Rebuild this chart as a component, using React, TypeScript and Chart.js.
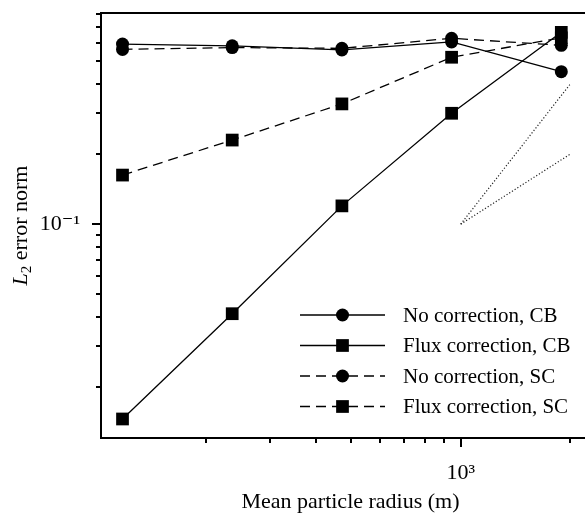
import React, { useEffect, useRef } from 'react';
import { Chart, registerables } from 'chart.js';

Chart.register(...registerables);

// ---- data ----
const radius = [118, 236, 472, 944, 1888];
const noCorrectionCB = [0.592, 0.582, 0.559, 0.605, 0.451];
const fluxCorrectionCB = [0.0146, 0.0413, 0.1198, 0.299, 0.665];
const noCorrectionSC = [0.562, 0.572, 0.568, 0.627, 0.585];
const fluxCorrectionSC = [0.1624, 0.2295, 0.328, 0.52, 0.63];

const refX = [1000, 2000];
const refSlope1 = [0.1, 0.2];
const refSlope2 = [0.1, 0.4];

const seriesLabels = ['No correction, CB', 'Flux correction, CB', 'No correction, SC', 'Flux correction, SC'];

const xTickValues = [200, 300, 400, 500, 600, 700, 800, 900, 1000, 2000];
const yTickValues = [0.02, 0.03, 0.04, 0.05, 0.06, 0.07, 0.08, 0.09, 0.1, 0.2, 0.3, 0.4, 0.5, 0.6, 0.7, 0.8];
const xTickLabels: Record<string, string> = { '1000': '10³' };
const yTickLabels: Record<string, string> = { '0.1': '10⁻¹' };

const xTitle = 'Mean particle radius (m)';
const yTitleMain = 'L';
const yTitleSub = '2';
const yTitleRest = ' error norm';

const X_MIN = 103;
const X_MAX = 2411;
const Y_MIN = 0.0121;
const Y_MAX = 0.805;

const FONT = '"Liberation Serif", "Times New Roman", "DejaVu Serif", serif';
const DASH = [10, 6];

const isPow10 = (v: number) => Math.abs(Math.log10(v) - Math.round(Math.log10(v))) < 1e-9;

const pts = (xs: number[], ys: number[]) => xs.map((x, i) => ({ x, y: ys[i] }));

const zeroPad = (s: any) => {
  s.paddingTop = 0;
  s.paddingBottom = 0;
  s.paddingLeft = 0;
  s.paddingRight = 0;
};

const tickMarksPlugin = {
  id: 'tickMarks',
  afterDraw(chart: any) {
    const ctx = chart.ctx;
    const xs = chart.scales.x;
    const ys = chart.scales.y;
    ctx.save();
    ctx.strokeStyle = '#000';
    ctx.lineWidth = 2;
    xs.ticks.forEach((t: any) => {
      const px = Math.round(xs.getPixelForValue(t.value));
      const len = isPow10(t.value) ? 9 : 5;
      ctx.beginPath();
      ctx.moveTo(px, xs.top);
      ctx.lineTo(px, xs.top + len);
      ctx.stroke();
    });
    ys.ticks.forEach((t: any) => {
      const py = Math.round(ys.getPixelForValue(t.value));
      const len = isPow10(t.value) ? 9 : 5;
      ctx.beginPath();
      ctx.moveTo(ys.right, py);
      ctx.lineTo(ys.right - len, py);
      ctx.stroke();
    });
    ctx.restore();
  },
};

const yTitlePlugin = {
  id: 'yTitle',
  afterDraw(chart: any) {
    const ctx = chart.ctx;
    const area = chart.chartArea;
    ctx.save();
    ctx.translate(27, (area.top + area.bottom) / 2);
    ctx.rotate(-Math.PI / 2);
    ctx.fillStyle = '#000';
    ctx.textBaseline = 'alphabetic';
    ctx.textAlign = 'left';
    const fMain = `italic 22px ${FONT}`;
    const fSub = `15px ${FONT}`;
    const fRest = `22px ${FONT}`;
    ctx.font = fMain;
    const w1 = ctx.measureText(yTitleMain).width;
    ctx.font = fSub;
    const w2 = ctx.measureText(yTitleSub).width;
    ctx.font = fRest;
    const w3 = ctx.measureText(yTitleRest).width;
    let x = -(w1 + w2 + w3) / 2;
    ctx.font = fMain;
    ctx.fillText(yTitleMain, x, 0);
    x += w1;
    ctx.font = fSub;
    ctx.fillText(yTitleSub, x, 4);
    x += w2;
    ctx.font = fRest;
    ctx.fillText(yTitleRest, x, 0);
    ctx.restore();
  },
};

const legendPlugin = {
  id: 'customLegend',
  afterDraw(chart: any) {
    const ctx = chart.ctx;
    const area = chart.chartArea;
    const rowH = 30.5;
    const firstY = area.bottom - 123;
    const lineX0 = area.left + 199;
    const lineX1 = area.left + 284;
    const markX = (lineX0 + lineX1) / 2;
    const textX = area.left + 302;
    ctx.save();
    seriesLabels.forEach((label, i) => {
      const ds = chart.data.datasets[i];
      const y = firstY + i * rowH;
      ctx.strokeStyle = '#000';
      ctx.lineWidth = ds.borderWidth;
      ctx.setLineDash(ds.borderDash || []);
      ctx.beginPath();
      ctx.moveTo(lineX0, y);
      ctx.lineTo(lineX1, y);
      ctx.stroke();
      ctx.setLineDash([]);
      ctx.fillStyle = '#000';
      ctx.beginPath();
      if (ds.pointStyle === 'rect') {
        const s = ds.pointRadius * Math.SQRT1_2;
        ctx.rect(markX - s, y - s, 2 * s, 2 * s);
      } else {
        ctx.arc(markX, y, ds.pointRadius, 0, Math.PI * 2);
      }
      ctx.fill();
      ctx.font = `21px ${FONT}`;
      ctx.textBaseline = 'middle';
      ctx.textAlign = 'left';
      ctx.fillText(label, textX, y + 1);
    });
    ctx.restore();
  },
};

export default function App() {
  const canvasRef = useRef<HTMLCanvasElement | null>(null);

  useEffect(() => {
    const canvas = canvasRef.current;
    if (!canvas) return;
    const common = {
      borderColor: '#000',
      backgroundColor: '#000',
      pointBackgroundColor: '#000',
      pointBorderColor: '#000',
      pointBorderWidth: 0,
      tension: 0,
      fill: false,
    };
    const chart = new Chart(canvas, {
      type: 'line',
      data: {
        datasets: [
          { ...common, label: seriesLabels[0], data: pts(radius, noCorrectionCB), borderWidth: 1.3, pointStyle: 'circle', pointRadius: 6.5 },
          { ...common, label: seriesLabels[1], data: pts(radius, fluxCorrectionCB), borderWidth: 1.3, pointStyle: 'rect', pointRadius: 9 },
          { ...common, label: seriesLabels[2], data: pts(radius, noCorrectionSC), borderWidth: 1.3, borderDash: DASH, pointStyle: 'circle', pointRadius: 6.5 },
          { ...common, label: seriesLabels[3], data: pts(radius, fluxCorrectionSC), borderWidth: 1.3, borderDash: DASH, pointStyle: 'rect', pointRadius: 9 },
          { ...common, label: 'slope 1', data: pts(refX, refSlope1), borderWidth: 1.2, borderColor: '#222', borderDash: [1.2, 2], pointRadius: 0 },
          { ...common, label: 'slope 2', data: pts(refX, refSlope2), borderWidth: 1.2, borderColor: '#222', borderDash: [1.2, 2], pointRadius: 0 },
        ] as any,
      },
      options: {
        animation: false,
        responsive: false,
        devicePixelRatio: 1,
        layout: { padding: { top: 13, left: 0, right: 20, bottom: 0 } },
        plugins: { legend: { display: false }, tooltip: { enabled: false } },
        scales: {
          x: {
            type: 'logarithmic',
            position: 'bottom',
            min: X_MIN,
            max: X_MAX,
            afterBuildTicks: (s: any) => { s.ticks = xTickValues.map((v) => ({ value: v, major: isPow10(v) })); },
            afterFit: (s: any) => { s.height = 77; zeroPad(s); },
            grid: { display: false, drawTicks: false },
            border: { display: true, color: '#000', width: 2 },
            ticks: {
              autoSkip: false,
              maxRotation: 0,
              padding: 22,
              color: '#000',
              font: { family: FONT, size: 22 },
              callback: (v: any) => xTickLabels[String(v)] ?? '',
            },
            title: { display: true, text: xTitle, color: '#000', font: { family: FONT, size: 22 }, padding: { top: 0, bottom: 0 } },
          },
          xTop: {
            type: 'logarithmic',
            position: 'top',
            min: X_MIN,
            max: X_MAX,
            afterFit: (s: any) => { s.height = 0; zeroPad(s); },
            grid: { display: false, drawTicks: false },
            border: { display: true, color: '#000', width: 2 },
            ticks: { display: false },
          },
          y: {
            type: 'logarithmic',
            position: 'left',
            min: Y_MIN,
            max: Y_MAX,
            afterBuildTicks: (s: any) => { s.ticks = yTickValues.map((v) => ({ value: v, major: isPow10(v) })); },
            afterFit: (s: any) => { s.width = 101; zeroPad(s); },
            grid: { display: false, drawTicks: false },
            border: { display: true, color: '#000', width: 2 },
            ticks: {
              autoSkip: false,
              padding: 21,
              color: '#000',
              font: { family: FONT, size: 22 },
              callback: (v: any) => yTickLabels[String(v)] ?? '',
            },
          },
        },
      } as any,
      plugins: [tickMarksPlugin, yTitlePlugin, legendPlugin],
    });
    return () => chart.destroy();
  }, []);

  return (
    <div style={{ position: 'fixed', left: 0, top: 0, width: 585, height: 515, overflow: 'hidden', background: '#fff' }}>
      <canvas ref={canvasRef} width={620} height={515} style={{ display: 'block' }} />
    </div>
  );
}
